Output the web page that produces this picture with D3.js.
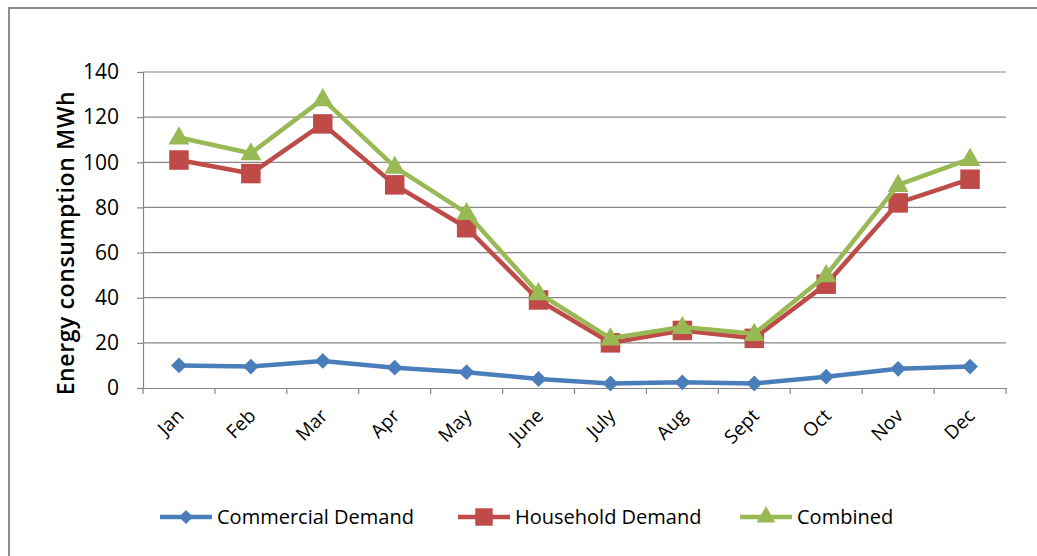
<!DOCTYPE html>
<html lang="en">
<head>
<meta charset="UTF-8">
<title>Energy consumption</title>
<script src="https://d3js.org/d3.v7.min.js"></script>
<style>
  body { margin: 0; background: #fff; }
  svg text { font-family: "Open Sans", "DejaVu Sans", sans-serif; fill: #000; }
</style>
</head>
<body>
<svg id="chart" width="1037" height="556"></svg>
<script>
// Data
const months = ["Jan", "Feb", "Mar", "Apr", "May", "June", "July", "Aug", "Sept", "Oct", "Nov", "Dec"];
const commercial = [10, 9.5, 12, 9, 7, 4, 2, 2.5, 2, 5, 8.5, 9.5];
const household = [101, 95, 117, 90, 71, 39, 20, 25.5, 22, 46, 82, 92.5];
const combined = [111, 104, 128, 98, 77.5, 42, 22, 27, 24, 50, 90, 101.5];
const yTicks = [0, 20, 40, 60, 80, 100, 120, 140];

const series = [
  { name: "Commercial Demand", values: commercial, color: "#4a7ebb", marker: "diamond" },
  { name: "Household Demand", values: household, color: "#be4b48", marker: "square" },
  { name: "Combined", values: combined, color: "#98b954", marker: "triangle" }
];

const svg = d3.select("#chart");

// outer frame (only top + left edges visible in the picture)
svg.append("path")
  .attr("d", "M9,556 V8 H1037")
  .attr("fill", "none")
  .attr("stroke", "#8c8c8c")
  .attr("stroke-width", 2);

const plotL = 143, plotR = 1006, plotT = 72, plotB = 388;

const x = d3.scaleBand().domain(months).range([plotL, plotR]);
const y = d3.scaleLinear().domain([0, 140]).range([plotB, plotT]);

// gridlines
svg.append("g")
  .selectAll("line")
  .data(yTicks.filter(d => d > 0))
  .enter().append("line")
  .attr("x1", plotL).attr("x2", plotR)
  .attr("y1", d => y(d)).attr("y2", d => y(d))
  .attr("stroke", "#878787").attr("stroke-width", 1.2);

// y axis
const yAxis = svg.append("g")
  .attr("transform", `translate(${plotL},0)`)
  .call(d3.axisLeft(y).tickValues(yTicks).tickSize(6).tickPadding(18));
yAxis.select(".domain").attr("stroke", "#878787").attr("stroke-width", 1.2);
yAxis.selectAll(".tick line").attr("stroke", "#878787").attr("stroke-width", 1.2);
yAxis.selectAll("text").attr("font-size", 21).attr("font-family", "Open Sans");

// x axis
const xAxis = svg.append("g")
  .attr("transform", `translate(0,${plotB})`)
  .call(d3.axisBottom(x).tickSize(0).tickFormat(""));
xAxis.select(".domain").attr("stroke", "#878787").attr("stroke-width", 1.2);

svg.append("g")
  .selectAll("line")
  .data(months.map(m => x(m)).concat([plotR]))
  .enter().append("line")
  .attr("x1", d => d).attr("x2", d => d)
  .attr("y1", plotB).attr("y2", plotB + 6)
  .attr("stroke", "#878787").attr("stroke-width", 1.2);

svg.append("g")
  .selectAll("text")
  .data(months)
  .enter().append("text")
  .attr("transform", d => `translate(${x(d) + x.bandwidth() / 2 + 6},${plotB + 29}) rotate(-45)`)
  .attr("text-anchor", "end")
  .attr("font-size", 19)
  .text(d => d);

// y axis title
svg.append("text")
  .attr("transform", `translate(74,243) rotate(-90)`)
  .attr("text-anchor", "middle")
  .attr("font-size", 23)
  .attr("font-weight", "600")
  .attr("letter-spacing", 0.6)
  .text("Energy consumption MWh");

const cx = (d, i) => x(months[i]) + x.bandwidth() / 2;

function markerPath(type, scale) {
  const k = scale || 1;
  if (type === "diamond") return d3.symbol(d3.symbolSquare, 125 * k)();
  if (type === "square") return d3.symbol(d3.symbolSquare, 380 * k)();
  return d3.symbol(d3.symbolTriangle, 190 * k)();
}
const markerRot = type => (type === "diamond" ? " rotate(45)" : "");

const line = d3.line().x((d, i) => cx(d, i)).y(d => y(d));

series.forEach(s => {
  const g = svg.append("g");
  g.append("path")
    .attr("d", line(s.values))
    .attr("fill", "none")
    .attr("stroke", s.color)
    .attr("stroke-width", 4.5)
    .attr("stroke-linejoin", "round");
  g.selectAll(".m")
    .data(s.values)
    .enter().append("path")
    .attr("d", markerPath(s.marker))
    .attr("transform", (d, i) => `translate(${cx(d, i)},${y(d) + (s.marker === "triangle" ? 1 : 0)})${markerRot(s.marker)}`)
    .attr("fill", s.color);
});

// legend
const legendItems = [
  { s: series[0], x0: 160 },
  { s: series[1], x0: 458 },
  { s: series[2], x0: 740 }
];
const ly = 517;
legendItems.forEach(it => {
  const g = svg.append("g");
  g.append("line")
    .attr("x1", it.x0).attr("x2", it.x0 + 52)
    .attr("y1", ly).attr("y2", ly)
    .attr("stroke", it.s.color).attr("stroke-width", 4.5);
  g.append("path")
    .attr("d", markerPath(it.s.marker, 0.8))
    .attr("transform", `translate(${it.x0 + 26},${ly})${markerRot(it.s.marker)}`)
    .attr("fill", it.s.color);
  g.append("text")
    .attr("x", it.x0 + 57)
    .attr("y", ly + 7)
    .attr("font-size", 20)
    .text(it.s.name);
});
</script>
</body>
</html>
